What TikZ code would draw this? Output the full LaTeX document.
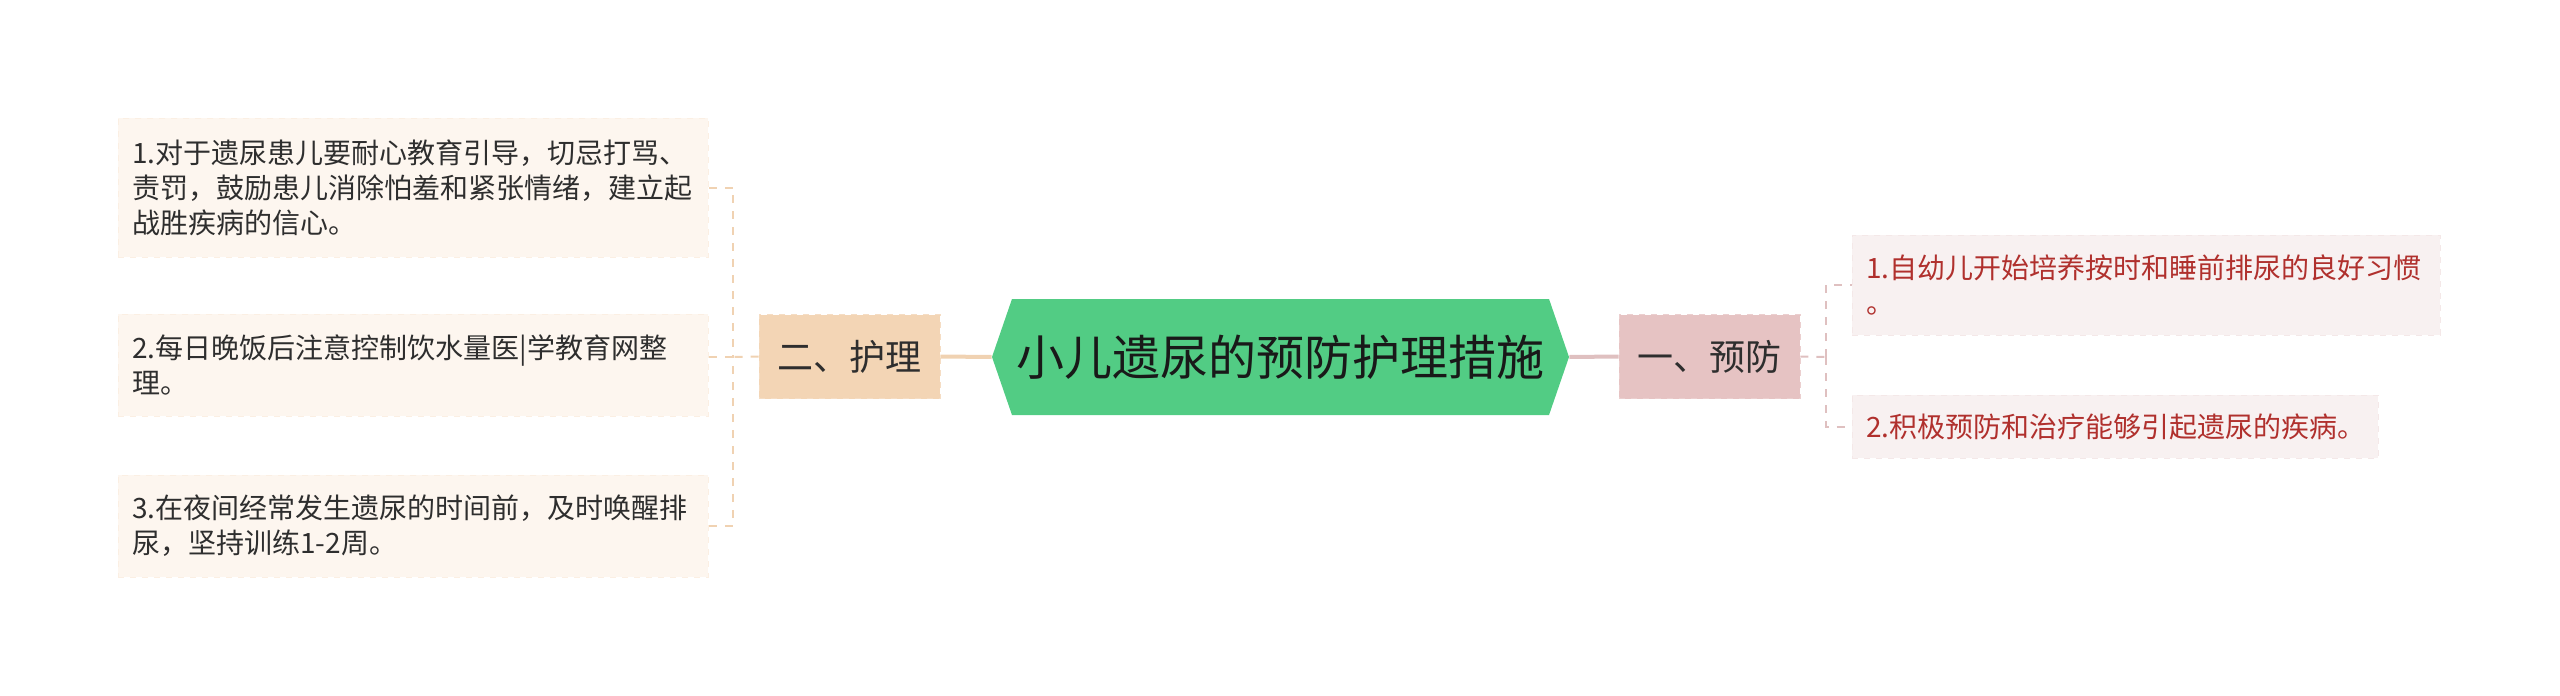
\documentclass[tikz,border=0pt]{standalone}
\usepackage{fontspec}
\newfontfamily\cjk{Noto Sans CJK SC}
\usetikzlibrary{shapes.symbols,positioning}
\definecolor{rootfill}{HTML}{52CC84}
\definecolor{carefill}{HTML}{F3D5B5}
\definecolor{careleaf}{HTML}{FDF6EF}
\definecolor{careline}{HTML}{F0D2B2}
\definecolor{prevfill}{HTML}{E6C3C3}
\definecolor{prevleaf}{HTML}{F8F1F1}
\definecolor{prevline}{HTML}{DFC0C0}
\definecolor{prevtext}{HTML}{B0302D}
\definecolor{darktext}{HTML}{2E2E2E}
\tikzset{
  leafnode/.style = {shape=rectangle, align=left, anchor=west,
                     inner xsep=7pt, inner ysep=0pt, text width=281pt,
                     font=\cjk\fontsize{14}{17.5}\selectfont},
  careleafnode/.style = {leafnode, fill=careleaf, draw=careleaf!80!carefill,
                     dashed, text=darktext},
  prevleafnode/.style = {leafnode, fill=prevleaf, draw=prevleaf!80!prevfill,
                     dashed, text=prevtext},
  secnode/.style  = {shape=rectangle, inner sep=0pt, minimum width=90.5pt,
                     minimum height=42pt, dashed, text=darktext,
                     font=\cjk\fontsize{18}{22}\selectfont},
  rootnode/.style = {shape=signal, signal to=west and east,
                     signal pointer angle=142, fill=rootfill, inner sep=0pt,
                     minimum width=288.5pt, minimum height=58pt,
                     text=black!90, font=\cjk\fontsize{24}{28}\selectfont},
  caredash/.style = {draw=careline, line width=1pt, dash pattern=on 4pt off 4pt},
  prevdash/.style = {draw=prevline, line width=1pt, dash pattern=on 4pt off 4pt}
}

\begin{document}
\begin{tikzpicture}[x=0.5pt, y=-0.5pt]
\useasboundingbox (0,0) rectangle (2560,696);

% centre and the two main branches
\node [rootnode] (root) at (1280.5,357) {小儿遗尿的预防护理措施};
\node [secnode, fill=carefill, draw=carefill!80!white] (care) at (849.5,356.5) {二、护理};
\node [secnode, fill=prevfill, draw=prevfill!80!white] (prev) at (1709.5,356.5) {一、预防};

% left leaves
\node [careleafnode, minimum height=69.5pt] (care1) at (118,187.5)
  {1.对于遗尿患儿要耐心教育引导，切忌打骂、\\责罚，鼓励患儿消除怕羞和紧张情绪，建立起\\战胜疾病的信心。};
\node [careleafnode, minimum height=51pt] (care2) at (118,365)
  {2.每日晚饭后注意控制饮水量医|学教育网整\\理。};
\node [careleafnode, minimum height=51pt] (care3) at (118,526)
  {3.在夜间经常发生遗尿的时间前，及时唤醒排\\尿，坚持训练1-2周。};

% right leaves
\node [prevleafnode, text width=280pt, minimum height=50pt] (prev1) at (1852,285)
  {1.自幼儿开始培养按时和睡前排尿的良好习惯\\。};
\node [prevleafnode, text width=249pt, minimum height=31.5pt] (prev2) at (1852,426.5)
  {2.积极预防和治疗能够引起遗尿的疾病。};

% links
\draw [careline, line width=2pt] (root.west) -- (care.east);
\draw [prevline, line width=2pt] (root.east) -- (prev.west);

\coordinate (cj) at (733,357);
\coordinate (pj) at (1826,357);
\draw [caredash] (care.west) -- (cj);
\draw [caredash] (care1.east) -| (cj);
\draw [caredash] (care3.east) -| (cj);
\draw [caredash] (cj -| care2.east) -- (cj);

\draw [prevdash] (prev.east) -- (pj);
\draw [prevdash] (pj) |- (prev1.west);
\draw [prevdash] (pj) |- (prev2.west);
\end{tikzpicture}
\end{document}
